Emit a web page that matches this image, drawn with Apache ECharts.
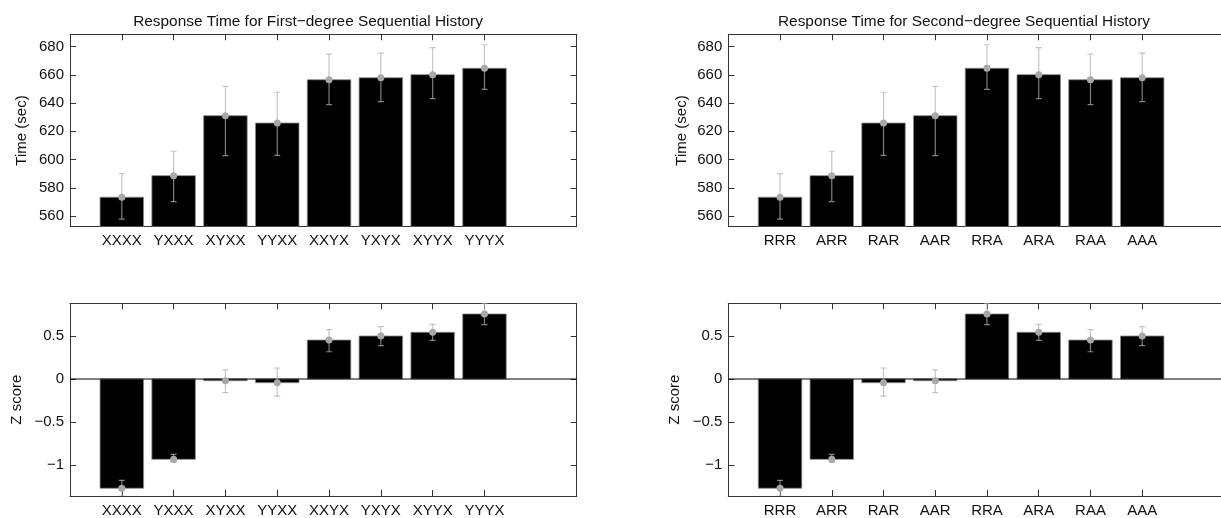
<!DOCTYPE html>
<html>
<head>
<meta charset="utf-8">
<script src="https://cdn.jsdelivr.net/npm/echarts@6/dist/echarts.min.js"></script>
<style>
  html, body { margin: 0; padding: 0; background: #fff; }
  #chart { width: 1221px; height: 518px; }
</style>
</head>
<body>
<div id="chart"></div>
<script>
// categories
var CATS_FIRST = ["XXXX", "YXXX", "XYXX", "YYXX", "XXYX", "YXYX", "XYYX", "YYYX"];
var CATS_SECOND = ["RRR", "ARR", "RAR", "AAR", "RRA", "ARA", "RAA", "AAA"];

// response time (sec), mean and error bar ends
var TIME_FIRST = [573.3, 588.6, 631.1, 625.9, 656.6, 658.0, 660.2, 664.7];
var TIME_FIRST_LO = [557.7, 570.2, 602.8, 603.0, 638.9, 641.0, 643.2, 649.8];
var TIME_FIRST_HI = [590.0, 605.9, 651.9, 647.7, 674.8, 675.5, 679.3, 681.4];
var TIME_SECOND = [573.3, 588.6, 625.9, 631.1, 664.7, 660.2, 656.6, 658.0];
var TIME_SECOND_LO = [557.7, 570.2, 603.0, 602.8, 649.8, 643.2, 638.9, 641.0];
var TIME_SECOND_HI = [590.0, 605.9, 647.7, 651.9, 681.4, 679.3, 674.8, 675.5];

// z scores
var Z_FIRST = [-1.27, -0.934, -0.02, -0.043, 0.453, 0.5, 0.543, 0.756];
var Z_FIRST_LO = [-1.36, -0.969, -0.159, -0.198, 0.317, 0.387, 0.45, 0.631];
var Z_FIRST_HI = [-1.178, -0.876, 0.105, 0.128, 0.573, 0.608, 0.636, 0.88];
var Z_SECOND = [-1.27, -0.934, -0.043, -0.02, 0.756, 0.543, 0.453, 0.5];
var Z_SECOND_LO = [-1.36, -0.969, -0.198, -0.159, 0.631, 0.45, 0.317, 0.387];
var Z_SECOND_HI = [-1.178, -0.876, 0.128, 0.105, 0.88, 0.636, 0.573, 0.608];

// tick labels
var TIME_TICKS = [560, 580, 600, 620, 640, 660, 680];
var Z_TICKS = [-1, -0.5, 0, 0.5];
var X_TICKS = [1, 2, 3, 4, 5, 6, 7, 8];

var TIME_MIN = 552.4, TIME_MAX = 688.8;
var Z_MIN = -1.36, Z_MAX = 0.88;
var X_MIN = 0, X_MAX = 9.78;
var BAR_WIDTH = 0.84;
var FONT = "'Liberation Sans', Arial, sans-serif";
var TEXT_COLOR = "#111";
var AXIS_COLOR = "#333";
var ERR_COLOR = "rgba(176,176,176,0.72)";

function rows(vals) {
    return vals.map(function (v, i) { return [i + 1, v]; });
}
function errRows(lo, hi) {
    return lo.map(function (v, i) { return [i + 1, v, hi[i]]; });
}
function minusFmt(v) {
    return String(v).replace("-", "\u2212");
}

function barRender(base) {
    return function (params, api) {
        var x = api.value(0), v = api.value(1);
        var p0 = api.coord([x - BAR_WIDTH / 2, v]);
        var p1 = api.coord([x + BAR_WIDTH / 2, base]);
        return {
            type: "rect",
            shape: {x: p0[0], y: Math.min(p0[1], p1[1]), width: p1[0] - p0[0], height: Math.abs(p1[1] - p0[1])},
            style: {fill: "#000", stroke: "#8a8a8a", lineWidth: 0.8}
        };
    };
}

function errRender(params, api) {
    var x = api.value(0);
    var pl = api.coord([x, api.value(1)]);
    var ph = api.coord([x, api.value(2)]);
    var c = 3;
    var st = {stroke: ERR_COLOR, lineWidth: 1.2};
    return {
        type: "group",
        children: [
            {type: "line", shape: {x1: pl[0], y1: pl[1], x2: ph[0], y2: ph[1]}, style: st},
            {type: "line", shape: {x1: pl[0] - c, y1: pl[1], x2: pl[0] + c, y2: pl[1]}, style: st},
            {type: "line", shape: {x1: ph[0] - c, y1: ph[1], x2: ph[0] + c, y2: ph[1]}, style: st}
        ]
    };
}

var grids = [
    {left: 70, top: 34.3, width: 506.7, height: 192.4, outerBoundsMode: "none"},
    {left: 70, top: 303.3, width: 506.7, height: 192.7, outerBoundsMode: "none"},
    {left: 728.3, top: 34.3, width: 506, height: 192.4, outerBoundsMode: "none"},
    {left: 728.3, top: 303.3, width: 506, height: 192.7, outerBoundsMode: "none"}
];

var xAxes = [], yAxes = [], series = [];

function addPanel(g, cats, vals, lo, hi, isTime, name, nameGap) {
    var lineStyle = {color: AXIS_COLOR, width: 1};
    xAxes.push({
        gridIndex: g, type: "value", position: "bottom", min: X_MIN, max: X_MAX,
        axisLine: {show: true, onZero: false, lineStyle: lineStyle},
        axisTick: {show: true, inside: true, length: 6, lineStyle: lineStyle, customValues: X_TICKS},
        axisLabel: {
            show: true, margin: 7, fontSize: 15, fontFamily: FONT, color: TEXT_COLOR,
            customValues: X_TICKS,
            formatter: function (v) { return cats[Math.round(v) - 1] || ""; }
        },
        splitLine: {show: false}
    });
    xAxes.push({
        gridIndex: g, type: "value", position: "top", min: X_MIN, max: X_MAX,
        axisLine: {show: true, onZero: false, lineStyle: lineStyle},
        axisTick: {show: true, inside: true, length: 6, lineStyle: lineStyle, customValues: X_TICKS},
        axisLabel: {show: false},
        splitLine: {show: false}
    });
    var ticks = isTime ? TIME_TICKS : Z_TICKS;
    var ymin = isTime ? TIME_MIN : Z_MIN, ymax = isTime ? TIME_MAX : Z_MAX;
    yAxes.push({
        gridIndex: g, type: "value", position: "left", min: ymin, max: ymax,
        name: name, nameLocation: "middle", nameRotate: 90, nameGap: nameGap,
        nameTextStyle: {fontSize: 15, fontFamily: FONT, color: TEXT_COLOR},
        axisLine: {show: true, onZero: false, lineStyle: lineStyle},
        axisTick: {show: true, inside: true, length: 6, lineStyle: lineStyle, customValues: ticks},
        axisLabel: {
            show: true, margin: 6, fontSize: 15, fontFamily: FONT, color: TEXT_COLOR,
            customValues: ticks, formatter: minusFmt
        },
        splitLine: {show: false}
    });
    yAxes.push({
        gridIndex: g, type: "value", position: "right", min: ymin, max: ymax,
        axisLine: {show: true, onZero: false, lineStyle: lineStyle},
        axisTick: {show: true, inside: true, length: 6, lineStyle: lineStyle, customValues: ticks},
        axisLabel: {show: false},
        splitLine: {show: false}
    });
    var xi = 2 * g, yi = 2 * g;
    series.push({
        type: "custom", xAxisIndex: xi, yAxisIndex: yi, clip: true,
        renderItem: barRender(isTime ? ymin : 0),
        encode: {x: 0, y: 1},
        data: rows(vals), z: 2
    });
    if (!isTime) {
        series.push({
            type: "line", xAxisIndex: xi, yAxisIndex: yi, symbol: "none", silent: true,
            lineStyle: {color: "#000", width: 1},
            data: [[X_MIN, 0], [X_MAX, 0]], z: 3
        });
    }
    series.push({
        type: "custom", xAxisIndex: xi, yAxisIndex: yi, clip: true,
        renderItem: errRender,
        encode: {x: 0, y: [1, 2]},
        data: errRows(lo, hi), z: 4
    });
    series.push({
        type: "scatter", xAxisIndex: xi, yAxisIndex: yi, clip: true,
        symbol: "circle", symbolSize: 7,
        itemStyle: {color: "#a8a8a8", opacity: 1},
        data: rows(vals), z: 5
    });
}

addPanel(0, CATS_FIRST, TIME_FIRST, TIME_FIRST_LO, TIME_FIRST_HI, true, "Time (sec)", 41);
addPanel(1, CATS_FIRST, Z_FIRST, Z_FIRST_LO, Z_FIRST_HI, false, "Z score", 46);
addPanel(2, CATS_SECOND, TIME_SECOND, TIME_SECOND_LO, TIME_SECOND_HI, true, "Time (sec)", 39);
addPanel(3, CATS_SECOND, Z_SECOND, Z_SECOND_LO, Z_SECOND_HI, false, "Z score", 46);

var option = {
    animation: false,
    backgroundColor: "#fff",
    title: [
        {text: "Response Time for First\u2212degree Sequential History", left: 303, top: 9, textAlign: "center",
         textStyle: {fontSize: 15.4, fontWeight: "normal", fontFamily: FONT, color: TEXT_COLOR}},
        {text: "Response Time for Second\u2212degree Sequential History", left: 959, top: 9, textAlign: "center",
         textStyle: {fontSize: 15.4, fontWeight: "normal", fontFamily: FONT, color: TEXT_COLOR}}
    ],
    grid: grids,
    xAxis: xAxes,
    yAxis: yAxes,
    series: series
};

var chart = echarts.init(document.getElementById("chart"));
chart.setOption(option);
</script>
</body>
</html>
